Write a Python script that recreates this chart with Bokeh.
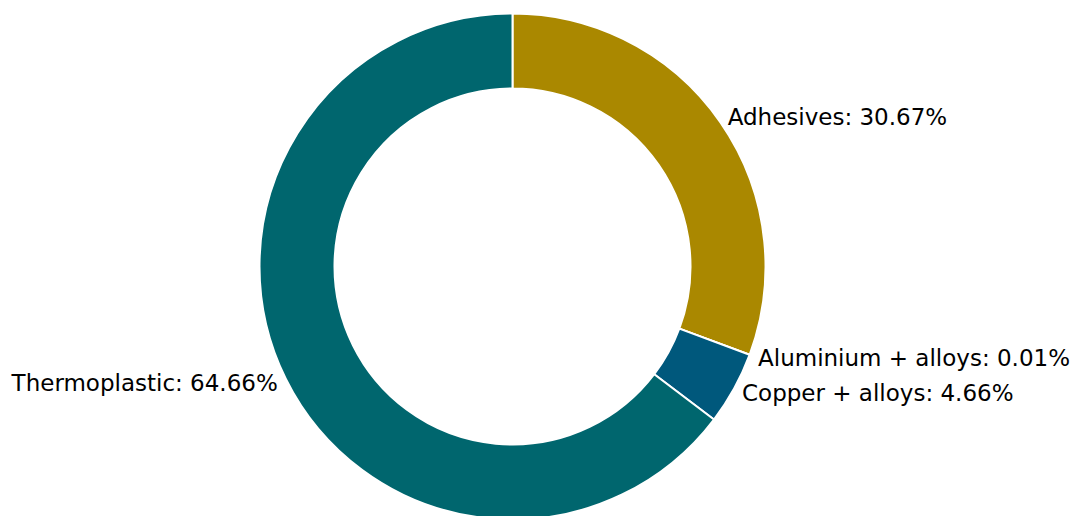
import numpy as np
from bokeh.plotting import figure
from bokeh.models import ColumnDataSource
from bokeh.embed import file_html
from bokeh.resources import INLINE
from bokeh.core.properties import value

categories = ["Adhesives", "Aluminium + alloys", "Copper + alloys", "Thermoplastic"]
shares = [30.67, 0.01, 4.66, 64.66]
colors = ["#AA8800", "#7A3E8E", "#00587C", "#00666E"]

W, H = 1075, 516
cx, cy = 512, 250
r_out, r_in, r_lab = 253, 178, 262

vals = np.array(shares)
frac = vals / vals.sum()
cum = np.concatenate([[0], np.cumsum(frac)])
start = np.pi / 2 - 2 * np.pi * cum[:-1]
end = np.pi / 2 - 2 * np.pi * cum[1:]
mid = (start + end) / 2

src = ColumnDataSource(dict(start=start, end=end, color=colors))

p = figure(width=W, height=H, x_range=(0, W), y_range=(0, H),
           output_backend="svg", toolbar_location=None, min_border=0)
p.axis.visible = False
p.grid.visible = False
p.outline_line_color = None

p.annular_wedge(x=cx, y=cy, inner_radius=r_in, outer_radius=r_out,
                start_angle="start", end_angle="end", direction="clock",
                fill_color="color", line_color="white", line_width=2, source=src)

lx = cx + r_lab * np.cos(mid)
ly = cy + r_lab * np.sin(mid)
labels = [f"{c}: {s:.2f}%" for c, s in zip(categories, shares)]
align = ["left" if x > cx else "right" for x in lx]
lsrc = ColumnDataSource(dict(x=lx, y=ly, t=labels, a=align))
p.text(x="x", y="y", text="t", text_align="a", text_baseline="middle",
       text_font=value("DejaVu Sans"), text_font_size="23px", text_color="black",
       source=lsrc)

open("out.html", "w").write(file_html(p, INLINE))
